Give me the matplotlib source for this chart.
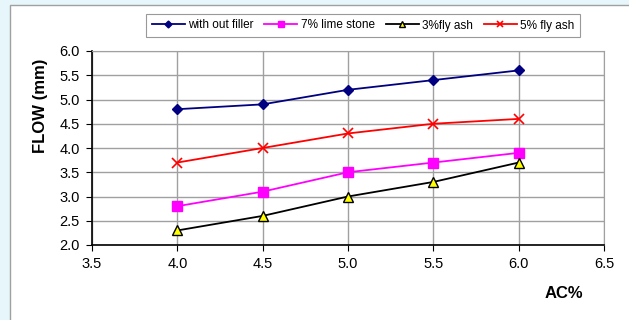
import matplotlib
matplotlib.use('Agg')
import matplotlib.pyplot as plt
from matplotlib.patches import Rectangle

ac = [4.0, 4.5, 5.0, 5.5, 6.0]
no_filler = [4.8, 4.9, 5.2, 5.4, 5.6]
lime7 = [2.8, 3.1, 3.5, 3.7, 3.9]
flyash3 = [2.3, 2.6, 3.0, 3.3, 3.7]
flyash5 = [3.7, 4.0, 4.3, 4.5, 4.6]

x_ticks = [3.5, 4.0, 4.5, 5.0, 5.5, 6.0, 6.5]
y_ticks = [2.0, 2.5, 3.0, 3.5, 4.0, 4.5, 5.0, 5.5, 6.0]

plt.rcParams['font.family'] = ['Liberation Sans', 'DejaVu Sans']

W, H = 629, 320
fig = plt.figure(figsize=(W / 100, H / 100), dpi=100)
fig.patch.set_facecolor('#e6f6fa')
# white chart area with gray frame
fig.patches.append(Rectangle((10 / W, -0.01), 1, 1 - 5 / H + 0.01, transform=fig.transFigure,
                             facecolor='white', edgecolor='#a0a0a0', lw=1, zorder=-5))

ax = fig.add_axes([92 / W, 1 - 245 / H, (604 - 92) / W, (245 - 51) / H])
ax.set_zorder(3)
ax.set_facecolor('white')

ax.plot(ac, no_filler, color='#000080', marker='D', ms=5, lw=1.3, label='with out filler')
ax.plot(ac, lime7, color='#ff00ff', marker='s', ms=7, lw=1.3, label='7% lime stone')
ax.plot(ac, flyash3, color='black', marker='^', ms=6.5, mfc='#ffff00', mec='black',
        lw=1.3, label='3%fly ash')
ax.plot(ac, flyash5, color='#ff0000', marker='x', ms=7, mew=1.2, lw=1.3, label='5% fly ash')

ax.set_xlim(3.5, 6.5)
ax.set_ylim(2.0, 6.0)
ax.set_xticks(x_ticks)
ax.set_xticklabels(['%.1f' % v for v in x_ticks])
ax.set_yticks(y_ticks)
ax.set_yticklabels(['%.1f' % v for v in y_ticks])
ax.tick_params(labelsize=10.5, direction='out', length=4, width=0.8, colors='black', pad=5)
ax.grid(True, color='#a0a0a0', lw=1)
ax.set_axisbelow(True)
for s in ['top', 'right']:
    ax.spines[s].set_color('#a0a0a0')
for s in ['left', 'bottom']:
    ax.spines[s].set_color('black')
    ax.spines[s].set_linewidth(1.2)

fig.text(40 / W, 1 - 106 / H, 'FLOW (mm)', rotation=90, fontsize=12,
         fontweight='bold', ha='center', va='center')
fig.text(564 / W, 1 - 293 / H, 'AC%', fontsize=12, fontweight='bold',
         ha='center', va='center')

leg = fig.legend(loc='center', bbox_to_anchor=(363 / W, 1 - 25.5 / H), ncol=4,
                 fontsize=8.5, frameon=True, fancybox=False, handlelength=2.8,
                 columnspacing=0.9, handletextpad=0.3, borderpad=0.45, markerscale=0.7)
leg.get_frame().set_edgecolor('#808080')
leg.get_frame().set_linewidth(0.8)

fig.savefig('out.png', dpi=100, facecolor=fig.get_facecolor())
